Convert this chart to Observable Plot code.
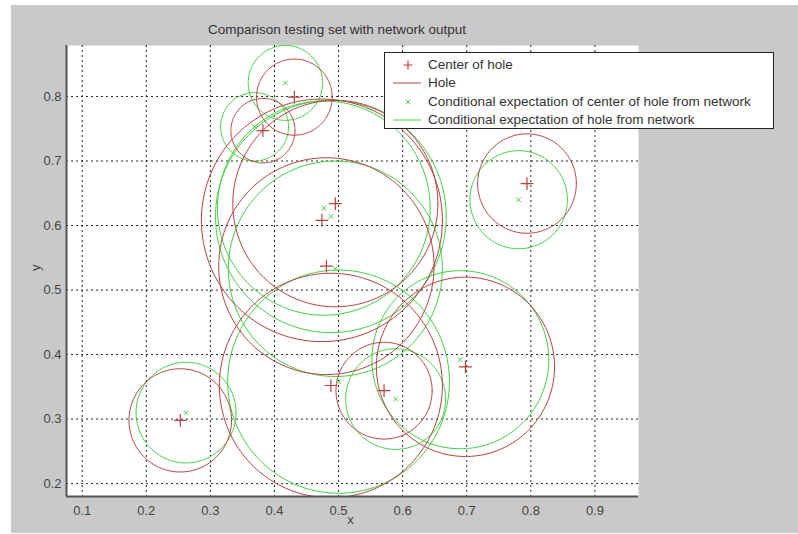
<!DOCTYPE html>
<html>
<head>
<meta charset="utf-8">
<script src="https://cdn.jsdelivr.net/npm/d3@7"></script>
<script src="https://cdn.jsdelivr.net/npm/@observablehq/plot@0.6"></script>
<style>
  html, body { margin: 0; padding: 0; background: #fff; }
  #wrap { position: relative; width: 798px; height: 534px; overflow: hidden; font-family: "Liberation Sans", Arial, sans-serif; }
  #bg { position: absolute; left: 11px; top: 5px; width: 787px; height: 528px; background: #c9c9c9; }
  #chart { position: absolute; left: 0; top: 0; }
  #title { position: absolute; left: 0; width: 674px; top: 22px; text-align: center; font-size: 13.5px; color: #333; }
  #legend { position: absolute; left: 384px; top: 52px; width: 390px; height: 77px; background: #fff; border: 1px solid #222; box-sizing: border-box; }
  .row { position: absolute; left: 0; height: 18px; font-size: 13.5px; color: #333; white-space: nowrap; }
  .row svg { position: absolute; left: 4px; top: 0; }
  .row span { position: absolute; left: 43px; top: 1px; }
</style>
</head>
<body>
<div id="wrap">
  <div id="bg"></div>
  <div id="chart"></div>
  <div id="title"></div>
  <div id="legend"></div>
</div>
<script>
// ---- data ----
const titleText = "Comparison testing set with network output";
const xTicks = [0.1, 0.2, 0.3, 0.4, 0.5, 0.6, 0.7, 0.8, 0.9];
const yTicks = [0.2, 0.3, 0.4, 0.5, 0.6, 0.7, 0.8];
const xDomain = [0.0755, 0.968];
const yDomain = [0.18, 0.879];

// true holes (red): centre x, centre y, radius
const holeX = [0.253, 0.794, 0.698, 0.571, 0.488, 0.474, 0.495, 0.481, 0.431, 0.382];
const holeY = [0.298, 0.665, 0.381, 0.344, 0.352, 0.608, 0.634, 0.537, 0.799, 0.747];
const holeR = [0.080, 0.077, 0.139, 0.075, 0.174, 0.188, 0.160, 0.168, 0.059, 0.050];

// network conditional expectation (green)
const netX = [0.262, 0.781, 0.690, 0.589, 0.500, 0.488, 0.477, 0.495, 0.417, 0.369];
const netY = [0.310, 0.640, 0.392, 0.331, 0.358, 0.614, 0.627, 0.533, 0.821, 0.753];
const netR = [0.078, 0.076, 0.138, 0.078, 0.173, 0.180, 0.166, 0.167, 0.058, 0.053];

const legendLabels = [
  "Center of hole",
  "Hole",
  "Conditional expectation of center of hole from network",
  "Conditional expectation of hole from network"
];

const RED = "#b94040";
const GREEN = "#3fd23f";

// ---- build outlines from centre + radius ----
function outlines(xs, ys, rs) {
  const pts = [];
  xs.forEach((cx, i) => {
    const n = 180;
    for (let k = 0; k <= n; k++) {
      const a = (2 * Math.PI * k) / n;
      pts.push({id: i, x: cx + rs[i] * Math.cos(a), y: ys[i] + rs[i] * Math.sin(a)});
    }
  });
  return pts;
}
const holePts = outlines(holeX, holeY, holeR);
const netPts = outlines(netX, netY, netR);
const holeCenters = holeX.map((x, i) => ({x, y: holeY[i]}));
const netCenters = netX.map((x, i) => ({x, y: netY[i]}));

const chart = Plot.plot({
  width: 798,
  height: 534,
  marginLeft: 66,
  marginRight: 160,
  marginTop: 45,
  marginBottom: 38,
  style: {background: "transparent", fontFamily: "Liberation Sans, Arial, sans-serif", fontSize: "13px", color: "#444"},
  x: {domain: xDomain},
  y: {domain: yDomain},
  marks: [
    Plot.frame({fill: "#fff", stroke: null}),
    Plot.gridX(xTicks, {stroke: "#000", strokeOpacity: 0.85, strokeDasharray: "2,3", strokeWidth: 1}),
    Plot.gridY(yTicks, {stroke: "#000", strokeOpacity: 0.85, strokeDasharray: "2,3", strokeWidth: 1}),
    Plot.line(netPts, {x: "x", y: "y", z: "id", stroke: GREEN, strokeWidth: 1, clip: true, curve: "linear"}),
    Plot.line(holePts, {x: "x", y: "y", z: "id", stroke: RED, strokeWidth: 1, clip: true, curve: "linear"}),
    Plot.dot(netCenters, {x: "x", y: "y", symbol: "times", r: 2.2, stroke: GREEN, strokeWidth: 1}),
    Plot.dot(holeCenters, {x: "x", y: "y", symbol: "plus", r: 4.2, stroke: RED, strokeWidth: 1.2}),
    Plot.ruleX([xDomain[0]], {stroke: "#555", strokeWidth: 2}),
    Plot.ruleY([yDomain[0]], {stroke: "#555", strokeWidth: 2}),
    Plot.axisX(xTicks, {tickSize: 0, tickPadding: 9, label: null, tickFormat: d => d.toFixed(1), fill: "#444"}),
    Plot.axisY(yTicks, {tickSize: 0, tickPadding: 5, label: null, tickFormat: d => d.toFixed(1), fill: "#444"}),
    Plot.text(["x"], {frameAnchor: "bottom", dy: 27, dx: -2, fill: "#444"}),
    Plot.text(["y"], {frameAnchor: "left", dx: -31, dy: 0, rotate: -90, fill: "#444"})
  ]
});
document.getElementById("chart").appendChild(chart);
document.getElementById("title").textContent = titleText;

// ---- legend ----
const legend = document.getElementById("legend");
const rowTops = [3, 21, 40, 58];
legendLabels.forEach((label, i) => {
  const row = document.createElement("div");
  row.className = "row";
  row.style.top = rowTops[i] + "px";
  let sym = "";
  if (i === 0) sym = `<path d="M19,4.5V13.5M14.5,9H23.5" stroke="${RED}" stroke-width="1.2"/>`;
  if (i === 1) sym = `<path d="M4,9H32" stroke="${RED}" stroke-width="1"/>`;
  if (i === 2) sym = `<path d="M17,7L21,11M21,7L17,11" stroke="${GREEN}" stroke-width="1"/>`;
  if (i === 3) sym = `<path d="M4,9H32" stroke="${GREEN}" stroke-width="1"/>`;
  row.innerHTML = `<svg width="36" height="18">${sym}</svg><span>${label}</span>`;
  legend.appendChild(row);
});
</script>
</body>
</html>
